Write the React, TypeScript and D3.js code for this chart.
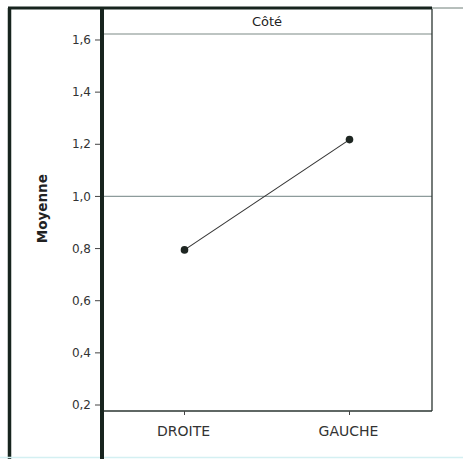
import React from "react";
import * as d3 from "d3";

const categories = ["DROITE", "GAUCHE"];
const means = [0.795, 1.218];
const yTicks = [0.2, 0.4, 0.6, 0.8, 1.0, 1.2, 1.4, 1.6];
const refValue = 1.0;
const panelTitle = "Côté";
const yTitle = "Moyenne";

export default function App() {
  const W = 463, H = 459;
  const left = 102, right = 432, top = 9, stripBottom = 34, bottom = 411;
  const y = d3.scaleLinear().domain([0.177, 1.623]).range([bottom, stripBottom]);
  const x = d3.scalePoint<string>().domain(categories).range([left, right]).padding(0.5);
  const line = d3.line<number>().x((_, i) => x(categories[i]) as number).y((d) => y(d));
  const fmt = (v: number) => v.toFixed(1).replace(".", ",");
  const dark = "#17241e";
  const font = "DejaVu Sans, Verdana, sans-serif";
  return (
    <svg width={W} height={H} style={{ position: "absolute", left: 0, top: 0, background: "#fff" }}>
      <rect x={0} y={0} width={W} height={H} fill="#fff" />
      {/* outer frame */}
      <line x1={9.5} y1={8} x2={9.5} y2={H} stroke={dark} strokeWidth={3.5} />
      <line x1={8} y1={8} x2={432} y2={8} stroke={dark} strokeWidth={3} />
      <line x1={432} y1={8} x2={463} y2={8} stroke="#6f7f78" strokeWidth={1} />
      <line x1={0} y1={457.5} x2={W} y2={457.5} stroke="#d4f0f2" strokeWidth={1.5} />
      {/* panel */}
      <line x1={left} y1={stripBottom} x2={right} y2={stripBottom} stroke="#7d8a86" strokeWidth={1.2} />
      <text x={(left + right) / 2} y={26} textAnchor="middle" fontFamily={font} fontSize={13} fill="#222">{panelTitle}</text>
      <line x1={left} y1={y(refValue)} x2={right} y2={y(refValue)} stroke="#8d9b9b" strokeWidth={1.2} />
      <line x1={right} y1={9} x2={right} y2={bottom} stroke="#2a3430" strokeWidth={1.3} />
      <line x1={left} y1={bottom} x2={right} y2={bottom} stroke="#2a3430" strokeWidth={1.3} />
      {/* y axis */}
      <line x1={102} y1={8} x2={102} y2={H} stroke={dark} strokeWidth={4} />
      {yTicks.map((t) => (
        <g key={t}>
          <line x1={95} x2={100} y1={y(t)} y2={y(t)} stroke="#444" strokeWidth={1} />
          <text x={91} y={y(t)} dy="0.35em" textAnchor="end" fontFamily={font} fontSize={12} fill="#333">{fmt(t)}</text>
        </g>
      ))}
      <text transform={`translate(47,${(y(0.8) + y(0.6)) / 2 - 66}) rotate(-90)`} textAnchor="middle" fontFamily={font} fontWeight="bold" fontSize={13.5} fill="#222">{yTitle}</text>
      {/* x axis */}
      {categories.map((c) => (
        <g key={c}>
          <line x1={x(c)} x2={x(c)} y1={bottom} y2={bottom + 4} stroke="#444" strokeWidth={1} />
          <text x={(x(c) as number) - 1} y={436} textAnchor="middle" fontFamily={font} fontSize={14} fill="#333">{c}</text>
        </g>
      ))}
      {/* data */}
      <path d={line(means) || ""} fill="none" stroke="#333" strokeWidth={1.1} />
      {means.map((m, i) => (
        <circle key={i} cx={x(categories[i])} cy={y(m)} r={3.8} fill="#1e2622" />
      ))}
    </svg>
  );
}
